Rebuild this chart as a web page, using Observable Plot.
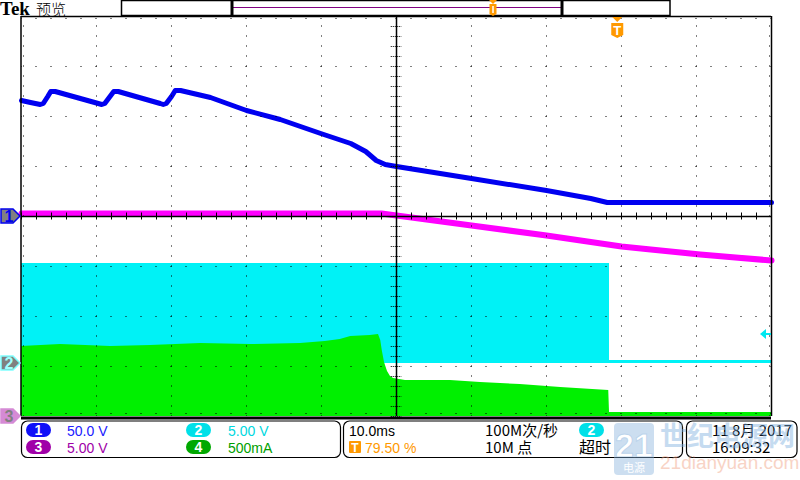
<!DOCTYPE html>
<html><head><meta charset="utf-8">
<script src="https://cdn.jsdelivr.net/npm/d3@7"></script>
<script src="https://cdn.jsdelivr.net/npm/@observablehq/plot@0.6"></script>
<style>
html,body{margin:0;padding:0;background:#fff;}
#wrap{position:relative;width:800px;height:480px;overflow:hidden;}
#wrap svg{position:absolute;left:0;top:0;}
</style></head><body><div id="wrap"></div>
<script>
// ---- data (time in ms relative to trigger) ----
const ch1Time = [-79.5,-78.3,-77.0,-76.6,-76.0,-75.6,-75.0,-69.5,-68.8,-68.4,-67.7,-67.2,-66.6,-61.0,-60.6,-60.2,-59.5,-59.0,-58.3,-54.3,-49.5,-45.0,-39.6,-35.6,-33.6,-32.2,-31.0,-29.5,-19.5,-9.5,-3.6,-1.4,20.5];
const ch1Volt = [116,114,112,113,120,125,125,113.5,112,113,120,125,125,113,112,113,120,126,126,119,106,97,83,73,65,56,52,50,38,26,18,14,14];

const ch3Time = [-79.5,-31.5,-29.5,-19.5,-9.5,0.5,4.4,11.0,20.5];
const ch3Volt = [20.3,20.3,20.1,19.1,18.1,17.0,16.7,16.2,15.6];

const ch2Time = [-79.5,-1.1,20.5];
const ch2Volt = [10,0.3,0.3];

const ch4Time = [-79.5,-74.3,-67.6,-62.3,-55.6,-49.0,-42.3,-39.0,-37.0,-35.6,-33.0,-31.9,-31.6,-31.4,-31.1,-30.7,-30.3,-29.9,-28.3,-22.3,-18.3,-13.0,-7.6,-1.2,-1.1,20.5];
const ch4mA  = [700,720,700,710,730,720,730,750,770,800,810,820,760,660,540,450,400,380,360,360,340,320,290,260,40,40];

// channel settings (units per division, ground position in divisions)
const ch1Scale = 50, ch1Pos = 0;
const ch2Scale = 5,  ch2Pos = -2.94, ch2Trig = 2.9;
const ch3Scale = 5,  ch3Pos = -4;
const ch4Scale = 500, ch4Pos = -4;
const timeDomain = [-79.5, 20.5];   // 10 ms/div, trigger at 79.50 %

const ch1 = ch1Time.map((t,i)=>({t, v: ch1Volt[i]}));
const ch2 = ch2Time.map((t,i)=>({t, v: ch2Volt[i]}));
const ch3 = ch3Time.map((t,i)=>({t, v: ch3Volt[i]}));
const ch4 = ch4Time.map((t,i)=>({t, v: ch4mA[i]}));

const majorT = d3.range(1,10).map(k => timeDomain[0] + 10*k).filter(t => Math.abs(t + 29.5) > 1e-6);
const majorY = [-3,-2,-1,1,2,3];
const minorT = d3.range(0,51).map(j => timeDomain[0] + 2*j);
const minorY = d3.range(0,41).map(j => -4 + 0.2*j);
const centerT = -29.5;

const chart = Plot.plot({
  width: 800, height: 480,
  marginLeft: 21, marginRight: 29, marginTop: 16, marginBottom: 64,
  x: {domain: timeDomain, axis: null},
  y: {domain: [-4, 4], axis: null},
  style: {background: "transparent", overflow: "visible"},
  marks: [
    Plot.area(ch2, {x1: "t", y1: () => ch2Pos, y2: d => d.v/ch2Scale + ch2Pos, fill: "#00f2f6", curve: "step-after"}),
    Plot.area(ch4, {x1: "t", y1: () => ch4Pos, y2: d => d.v/ch4Scale + ch4Pos, fill: "#00f000"}),
    Plot.line(ch1, {x: "t", y: d => d.v/ch1Scale + ch1Pos, stroke: "#0000f0", strokeWidth: 5, strokeLinejoin: "round"}),
    Plot.line(ch3, {x: "t", y: d => d.v/ch3Scale + ch3Pos, stroke: "#ff00ff", strokeWidth: 6}),
    // graticule
    Plot.ruleX(majorT, {stroke: "#000", strokeDasharray: "1 9", strokeDashoffset: 0.5}),
    Plot.ruleY(majorY, {stroke: "#000", strokeDasharray: "1 14", strokeDashoffset: 0.5}),
    Plot.ruleX(minorT, {y1: () => -0.07, y2: () => 0.07, stroke: "#000"}),
    Plot.ruleY(minorY, {x1: () => centerT - 0.7, x2: () => centerT + 0.7, stroke: "#000", strokeDasharray: "1 1"}),
    Plot.ruleX([centerT], {stroke: "#000", strokeWidth: 1.5}),
    Plot.ruleY([0], {stroke: "#000", strokeWidth: 1.5}),
    Plot.ruleX([timeDomain[0]], {dx: 2, stroke: "#000", strokeDasharray: "1 9", strokeDashoffset: 0.5}),
    Plot.ruleX([timeDomain[1]], {dx: -2, stroke: "#000", strokeDasharray: "1 9", strokeDashoffset: 0.5}),
    Plot.ruleY([4], {dy: 2, stroke: "#000", strokeDasharray: "1 14", strokeDashoffset: 0.5}),
    Plot.ruleY([-4], {dy: -3, stroke: "#000", strokeDasharray: "1 14", strokeDashoffset: 0.5}),
    // frame
    Plot.ruleX([timeDomain[0]], {stroke: "#000", strokeWidth: 1.5, dx: -0.5}),
    Plot.ruleX([timeDomain[1]], {stroke: "#000", strokeWidth: 1.5}),
    Plot.ruleY([4], {stroke: "#000", strokeWidth: 1.5}),
    Plot.ruleY([-4], {stroke: "#000", strokeWidth: 3, dy: 1.5})
  ]
});
document.getElementById("wrap").appendChild(chart);

const svg = d3.select(chart);
const xS = chart.scale("x"), yS = chart.scale("y");
const g = svg.append("g").attr("font-family", "'Liberation Sans', Arial, sans-serif").attr("text-anchor", "start");

// channel ground markers
function marker(yDiv, fill, stroke, label, labelColor) {
  const y = yS.apply(yDiv);
  g.append("path").attr("d", `M1,${y-7}L13,${y-7}L20,${y}L13,${y+7}L1,${y+7}Z`)
    .attr("fill", fill).attr("stroke", stroke).attr("stroke-width", 1.5);
  g.append("text").attr("x", 9).attr("y", y+6).attr("text-anchor", "middle")
    .attr("font-size", 16).attr("font-weight", "bold").attr("fill", labelColor).text(label);
}
marker(ch1Pos, "#808080", "#0000f0", "1", "#0000f0");
marker(ch2Pos, "#808080", "#80ffff", "2", "#a0ffff");
marker(ch3Pos, "#d58ad5", "#d58ad5", "3", "#808080");

// ch2 trigger level arrow
{
  const y = yS.apply(ch2Trig/ch2Scale + ch2Pos), x = 760;
  g.append("path").attr("d", `M${x},${y}L${x+6},${y-5}L${x+6},${y+5}Z`).attr("fill", "#00e8f0");
  g.append("line").attr("x1", x+5).attr("x2", x+11).attr("y1", y).attr("y2", y).attr("stroke", "#00e8f0").attr("stroke-width", 2);
}
// trigger position marker
{
  const x = xS.apply(0);
  g.append("path").attr("d", `M${x-5},17L${x+5},17L${x},22Z`).attr("fill", "#ff9900");
  g.append("path").attr("d", `M${x-6},23H${x+6}V35L${x},38L${x-6},35Z`).attr("fill", "#ff9900");
  g.append("text").attr("x", x).attr("y", 35).attr("text-anchor", "middle").attr("font-size", 13)
    .attr("font-weight", "bold").attr("fill", "#fff").text("T");
}

// top bar
g.append("text").attr("x", 0).attr("y", 15).attr("font-family", "'Liberation Serif', serif")
  .attr("font-weight", "bold").attr("font-size", 19).attr("fill", "#000").text("Tek");
g.append("text").attr("x", 36).attr("y", 14.5).attr("font-family", "'Noto Sans CJK SC', sans-serif")
  .attr("font-weight", 300).attr("font-size", 15).attr("fill", "#000").text("预览");
g.append("rect").attr("x", 121.5).attr("y", 0.5).attr("width", 548.5).attr("height", 15)
  .attr("fill", "none").attr("stroke", "#000").attr("stroke-width", 1.5);
g.append("line").attr("x1", 233).attr("x2", 561).attr("y1", 7.5).attr("y2", 7.5).attr("stroke", "#800080");
[232, 562].forEach(x => g.append("line").attr("x1", x).attr("x2", x).attr("y1", 0).attr("y2", 16)
  .attr("stroke", "#000").attr("stroke-width", 3));
g.append("path").attr("d", "M489,0L497,0L493,4Z").attr("fill", "#ff9900");
g.append("path").attr("d", "M489.5,4H496.5V14L493,16L489.5,14Z").attr("fill", "#ff9900");
g.append("line").attr("x1", 493).attr("x2", 493).attr("y1", 6).attr("y2", 13).attr("stroke", "#fff").attr("stroke-width", 1.5);

// bottom panels
[[21.5, 319], [343.5, 339], [686.5, 110.5]].forEach(([x, w]) =>
  g.append("rect").attr("x", x).attr("y", 421).attr("width", w).attr("height", 36.5).attr("rx", 6)
    .attr("fill", "#fff").attr("stroke", "#000").attr("stroke-width", 1.2));
function pill(x, y, color, label) {
  g.append("rect").attr("x", x).attr("y", y).attr("width", 25).attr("height", 14).attr("rx", 7).attr("fill", color);
  g.append("text").attr("x", x+12.5).attr("y", y+12).attr("text-anchor", "middle").attr("font-size", 14)
    .attr("font-weight", "bold").attr("fill", "#fff").text(label);
}
function txt(x, y, s, color, size=14, anchor="start", family=null) {
  const t = g.append("text").attr("x", x).attr("y", y).attr("font-size", size).attr("fill", color)
    .attr("text-anchor", anchor).text(s);
  if (family) t.attr("font-family", family);
  return t;
}
pill(26, 423, "#1010f8", "1"); txt(67, 436, "50.0 V", "#2020ff");
pill(26, 440, "#a000a8", "3"); txt(67, 452.5, "5.00 V", "#a000a8");
pill(186, 423, "#00e0e8", "2"); txt(228, 436, "5.00 V", "#00d8e0");
pill(186, 440, "#00a800", "4"); txt(228, 452.5, "500mA", "#00a000");

txt(349, 436, "10.0ms", "#000");
g.append("rect").attr("x", 349).attr("y", 441).attr("width", 12).attr("height", 12).attr("rx", 1).attr("fill", "#ff9900");
txt(355, 452, "T", "#fff", 12, "middle").attr("font-weight", "bold");
txt(365, 452.5, "79.50 %", "#ff9900");
const cjk = "'Noto Sans CJK SC', 'Liberation Sans', sans-serif";
txt(485, 436, "100M次/秒", "#000", 15, "start", cjk);
txt(485, 452.5, "10M 点", "#000", 15, "start", cjk);
pill(579, 423, "#00e0e8", "2");
txt(579, 453, "超时", "#000", 16, "start", cjk);
txt(712, 436, "11 8月 2017", "#000", 15, "start", cjk);
txt(712, 452.5, "16:09:32", "#000", 15, "start", cjk);

// watermark
const wm = g.append("g").attr("opacity", 0.45);
wm.append("rect").attr("x", 614).attr("y", 423).attr("width", 40).attr("height", 52).attr("rx", 4).attr("fill", "#8fb8e0");
wm.append("text").attr("x", 634).attr("y", 457).attr("text-anchor", "middle").attr("font-size", 34)
  .attr("font-weight", "bold").attr("fill", "#fff").attr("stroke", "#6a9fd4").attr("stroke-width", 1).text("21");
wm.append("text").attr("x", 634).attr("y", 472).attr("text-anchor", "middle").attr("font-size", 11)
  .attr("font-family", cjk).attr("fill", "#fff").text("电源");
wm.append("text").attr("x", 660).attr("y", 446).attr("font-size", 27).attr("font-weight", "bold")
  .attr("font-family", cjk).attr("fill", "#7fb0e0").text("世纪电源网");
wm.append("text").attr("x", 660).attr("y", 469).attr("font-size", 19)
  .attr("fill", "#f0a080").text("21dianyuan.com");
</script>
</body></html>
